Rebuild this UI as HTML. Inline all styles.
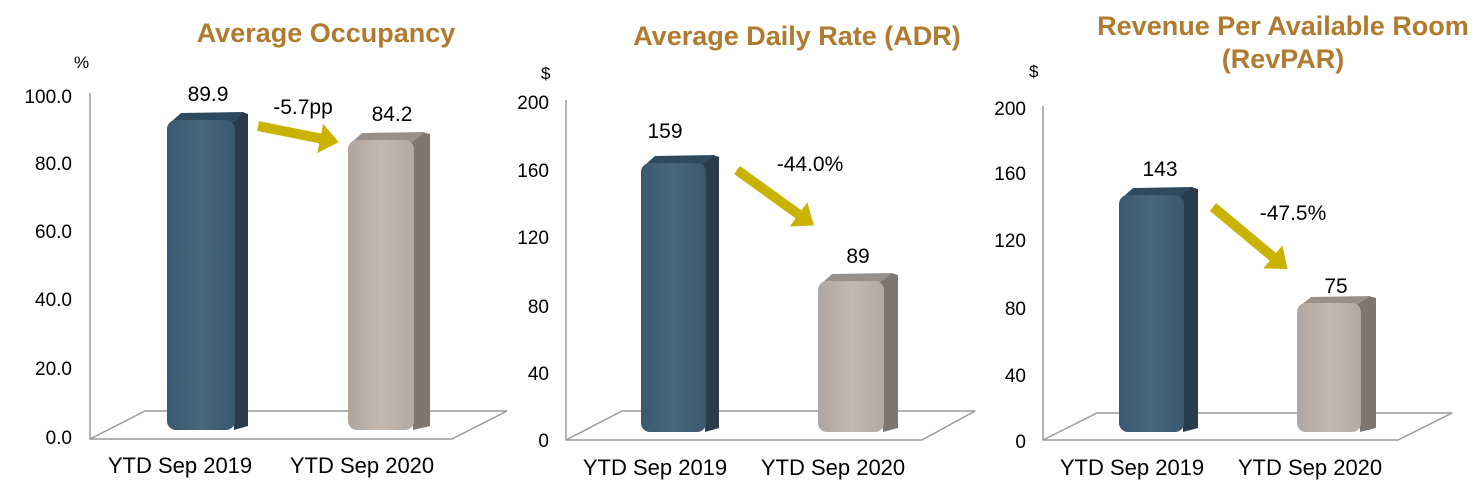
<!DOCTYPE html>
<html><head><style>
body{margin:0;background:#fff}
svg{display:block}
text{font-family:"Liberation Sans",Arial,sans-serif}
.t{font-size:27px;font-weight:bold;fill:#b07a2f;text-anchor:middle}
.tk{font-size:19px;fill:#000;text-anchor:end}
.v{font-size:21px;fill:#000;text-anchor:middle}
.x{font-size:22px;fill:#000;text-anchor:middle}
.ax{stroke:#9a9a9a;stroke-width:1.5;fill:none}
</style></head><body>
<svg width="1484" height="483" viewBox="0 0 1484 483">
<defs>
<marker id="ah" markerWidth="3" markerHeight="3" refX="0.8" refY="1.5" orient="auto" markerUnits="strokeWidth">
<path d="M0,0 L1.9,1.5 L0,3 z" fill="#c9b300"/></marker>
<linearGradient id="gb" x1="0" x2="1"><stop offset="0" stop-color="#3a596f"/><stop offset=".5" stop-color="#46677e"/><stop offset="1" stop-color="#3a586d"/></linearGradient>
<linearGradient id="gg" x1="0" x2="1"><stop offset="0" stop-color="#b0a69d"/><stop offset=".5" stop-color="#c3b9b1"/><stop offset="1" stop-color="#b3a9a0"/></linearGradient>
</defs>

<!-- Chart 1 -->
<text class="t" x="326" y="42">Average Occupancy</text>
<text x="74" y="68" font-size="17">%</text>
<text x="72" y="103" class="tk">100.0</text><text x="72" y="170" class="tk">80.0</text><text x="72" y="238" class="tk">60.0</text><text x="72" y="306" class="tk">40.0</text><text x="72" y="375" class="tk">20.0</text><text x="72" y="444" class="tk">0.0</text>
<path class="ax" d="M90,93 V439 H452 L507,411 H145 L90,439"/>
<polygon points="230,122 242,112 248,114 248,426 234,430" fill="#2a3c4b"/>
<polygon points="171,122 181,113 244,112 234,122" fill="#2e4a5e"/>
<rect x="167" y="120" width="68" height="310" rx="9" fill="url(#gb)"/>
<polygon points="409,142 421,132 430,134 430,426 413,430" fill="#7e7670"/>
<polygon points="352,142 362,133 425,132 413,142" fill="#9a908a"/>
<rect x="348" y="140" width="66" height="290" rx="9" fill="url(#gg)"/>
<text class="v" x="208" y="101">89.9</text>
<text class="v" x="392" y="121">84.2</text>
<text class="v" x="303" y="114">-5.7pp</text>
<line x1="258" y1="126" x2="328" y2="140" stroke="#c9b300" stroke-width="10" marker-end="url(#ah)"/>
<text class="x" x="180" y="473">YTD Sep 2019</text>
<text class="x" x="362" y="473">YTD Sep 2020</text>

<!-- Chart 2 -->
<text class="t" x="797" y="45">Average Daily Rate (ADR)</text>
<text x="541" y="79" font-size="17">$</text>
<text x="549" y="109" class="tk">200</text><text x="549" y="177" class="tk">160</text><text x="549" y="244" class="tk">120</text><text x="549" y="313" class="tk">80</text><text x="549" y="380" class="tk">40</text><text x="549" y="447" class="tk">0</text>
<path class="ax" d="M566,100 V440 H922 L975,411 H622 L566,440"/>
<polygon points="701,165 713,155 719,157 719,428 705,432" fill="#2a3c4b"/>
<polygon points="645,165 655,156 715,155 701,165" fill="#2e4a5e"/>
<rect x="641" y="163" width="65" height="269" rx="9" fill="url(#gb)"/>
<polygon points="879,283 891,273 898,275 898,428 883,432" fill="#7e7670"/>
<polygon points="822,283 832,274 893,273 879,283" fill="#9a908a"/>
<rect x="818" y="281" width="66" height="151" rx="9" fill="url(#gg)"/>
<text class="v" x="665" y="138">159</text>
<text class="v" x="858" y="263">89</text>
<text class="v" x="810" y="171">-44.0%</text>
<line x1="737" y1="170" x2="805" y2="219" stroke="#c9b300" stroke-width="10" marker-end="url(#ah)"/>
<text class="x" x="655" y="475">YTD Sep 2019</text>
<text class="x" x="833" y="475">YTD Sep 2020</text>

<!-- Chart 3 -->
<text class="t" x="1283" y="35">Revenue Per Available Room</text>
<text class="t" x="1283" y="68">(RevPAR)</text>
<text x="1029" y="77" font-size="17">$</text>
<text x="1026" y="115" class="tk">200</text><text x="1026" y="180" class="tk">160</text><text x="1026" y="247" class="tk">120</text><text x="1026" y="315" class="tk">80</text><text x="1026" y="382" class="tk">40</text><text x="1026" y="448" class="tk">0</text>
<path class="ax" d="M1043,106 V440 H1398 L1452,413 H1097 L1043,440"/>
<polygon points="1179,197 1191,187 1198,189 1198,428 1183,432" fill="#2a3c4b"/>
<polygon points="1123,197 1133,188 1193,187 1179,197" fill="#2e4a5e"/>
<rect x="1119" y="195" width="65" height="237" rx="9" fill="url(#gb)"/>
<polygon points="1356,305 1368,296 1376,298 1376,428 1360,432" fill="#7e7670"/>
<polygon points="1301,305 1311,297 1371,296 1356,305" fill="#9a908a"/>
<rect x="1297" y="303" width="64" height="129" rx="9" fill="url(#gg)"/>
<text class="v" x="1160" y="176">143</text>
<text class="v" x="1336" y="293">75</text>
<text class="v" x="1293" y="220">-47.5%</text>
<line x1="1213" y1="207" x2="1279" y2="262" stroke="#c9b300" stroke-width="10" marker-end="url(#ah)"/>
<text class="x" x="1132" y="475">YTD Sep 2019</text>
<text class="x" x="1310" y="475">YTD Sep 2020</text>
</svg>
</body></html>
